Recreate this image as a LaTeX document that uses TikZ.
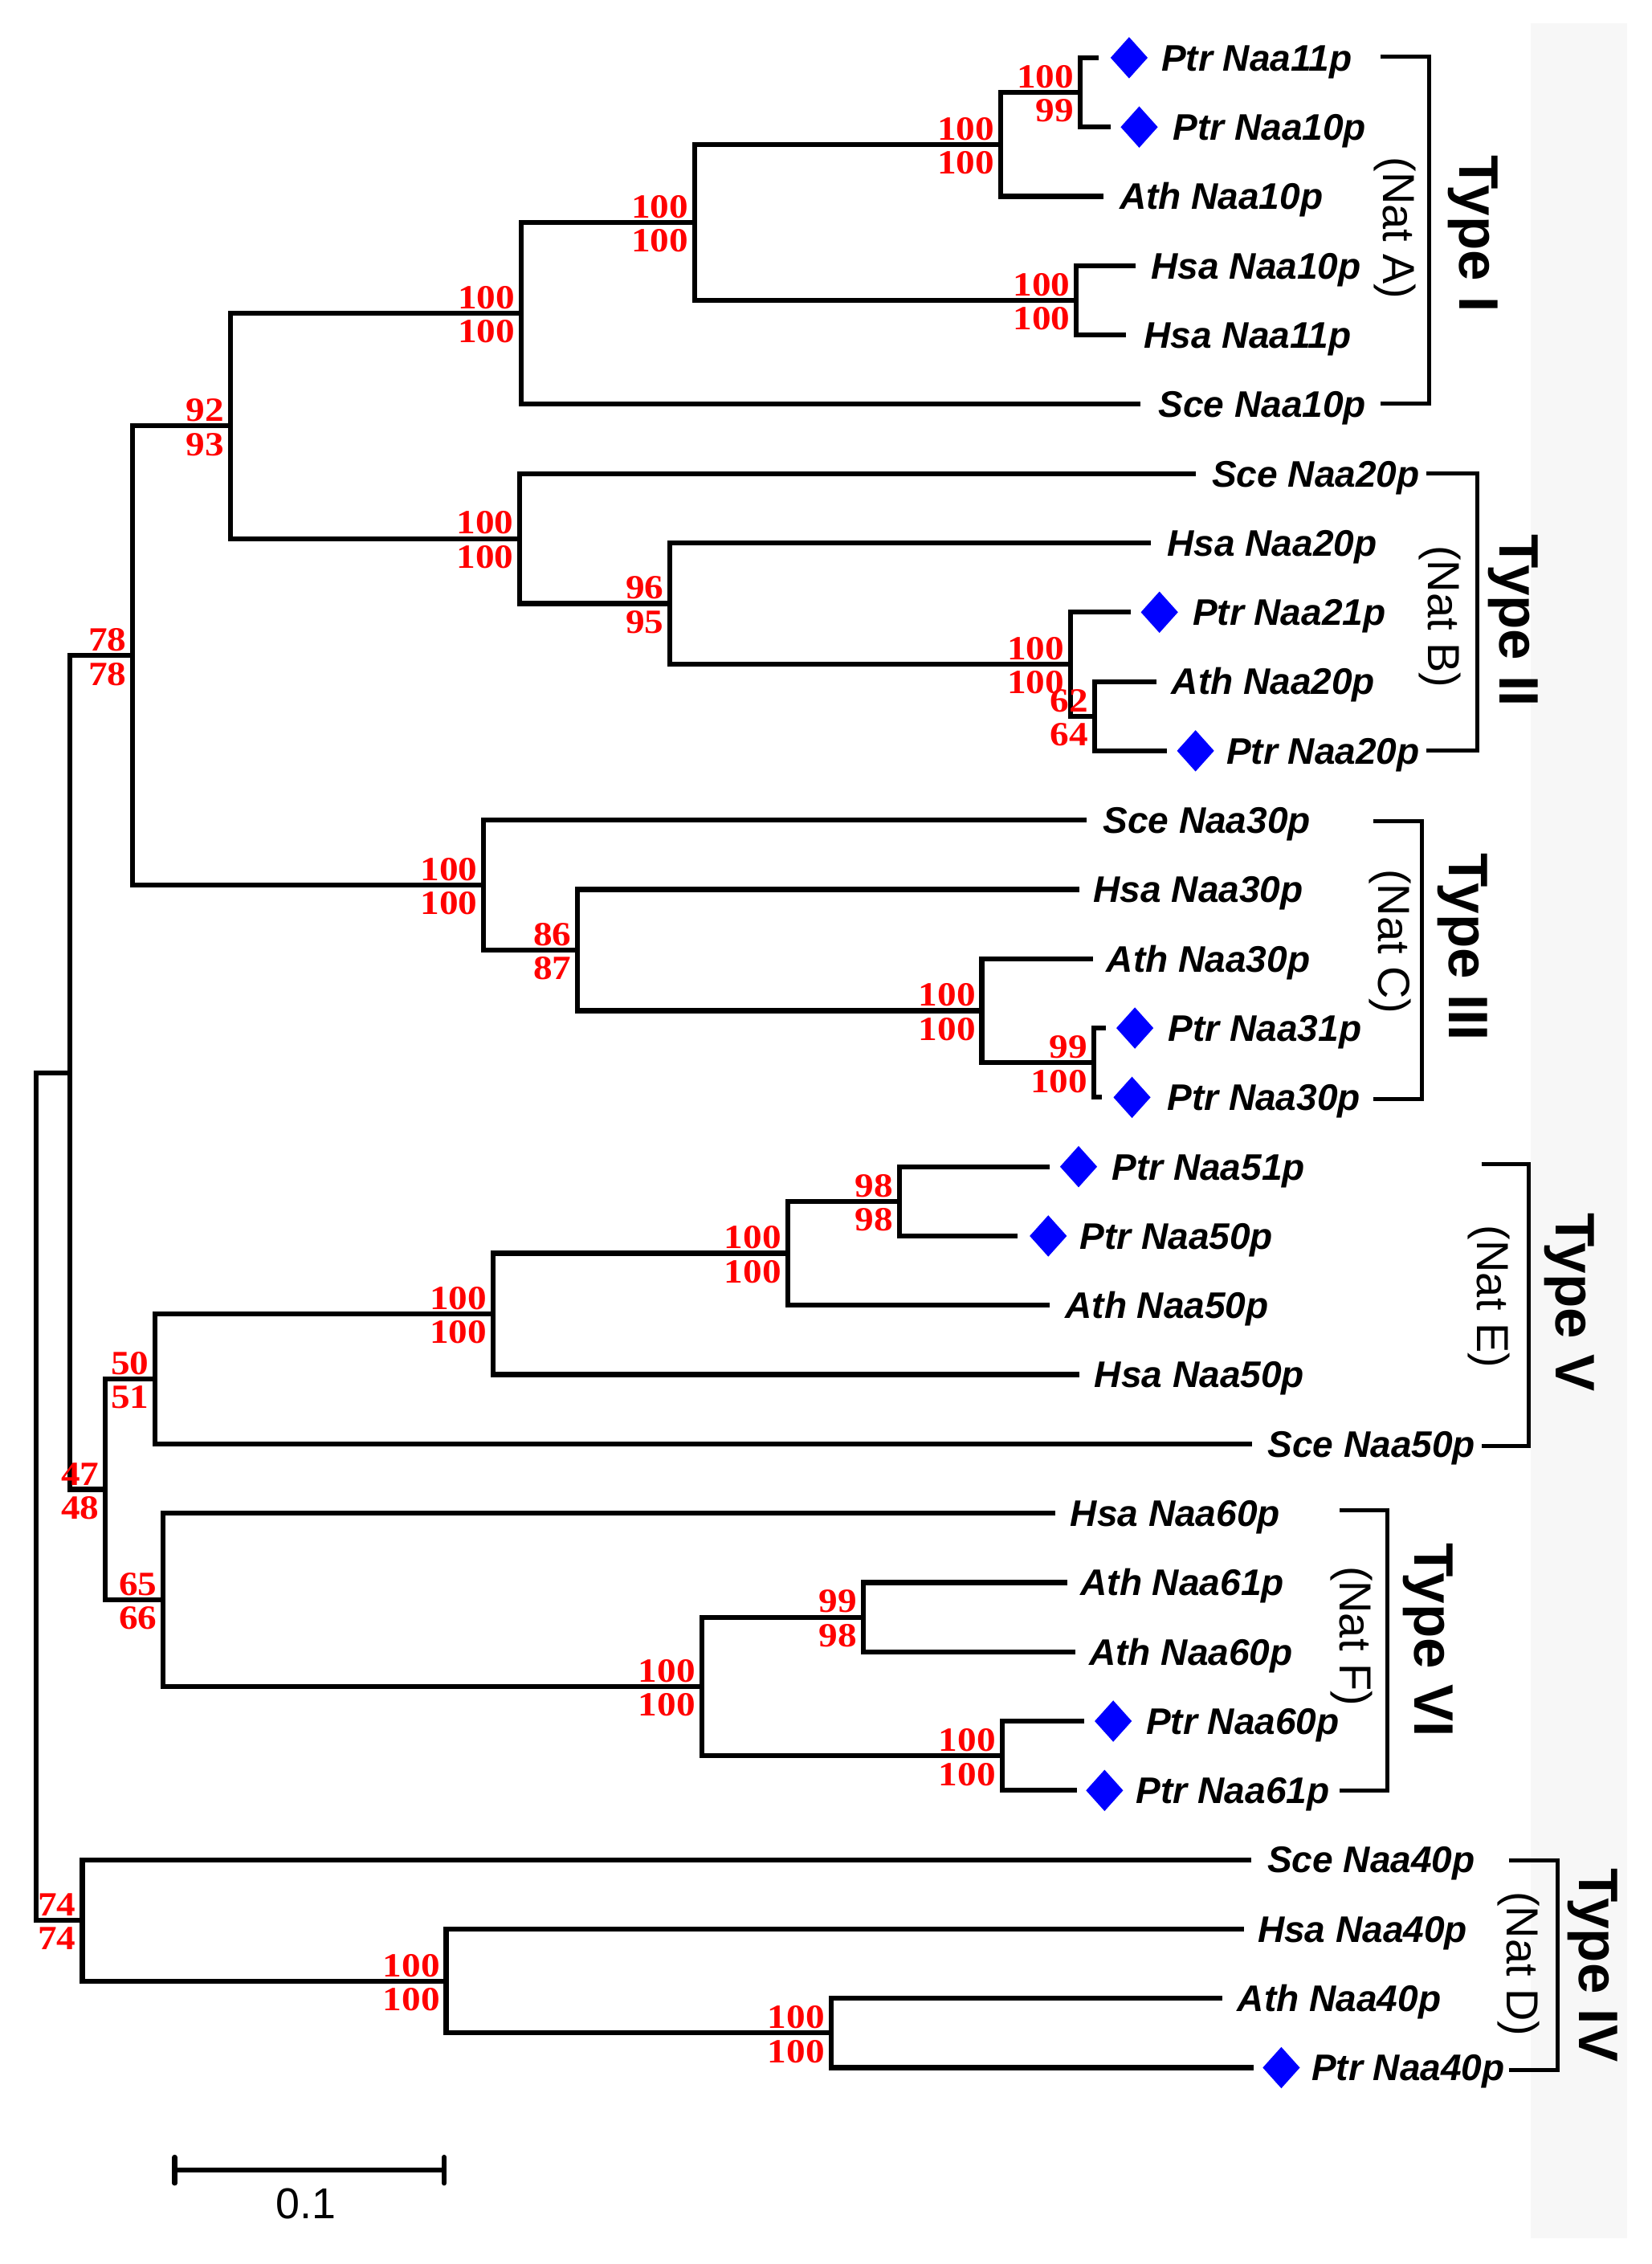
\documentclass[tikz,border=0pt]{standalone}
\usepackage{fontspec}
\setsansfont{Liberation Sans}
\newfontfamily\bsfont[FakeStretch=1.12]{Liberation Serif}
\usetikzlibrary{shapes.geometric}
\newcommand\bootlab[3]{%
  \node[bs,anchor=south east] (#1t) at ([shift={(-4,-2.5)}]#1) {#2};%
  \node[bs,anchor=north east] (#1b) at ([shift={(-4,4.5)}]#1) {#3};}
\newcommand\leaflab[4]{\node[lf] (#1) at (#2,#3+9.1) {#4};}
\begin{document}
\begin{tikzpicture}[x=0.01798cm,y=-0.01798cm,
  br/.style={line width=1.75pt, line join=miter},
  bk/.style={line width=1.4pt, line join=miter},
  bs/.style={inner sep=0pt, text=red, font=\bsfont\bfseries\fontsize{12}{13}\selectfont},
  lf/.style={anchor=base west, inner sep=0pt, font=\sffamily\bfseries\itshape\fontsize{13.1}{15}\selectfont},
  dmd/.style={diamond, fill=blue, draw=none, inner sep=0pt, minimum width=13.3pt, minimum height=14.8pt},
  typ/.style={rotate=-90, inner sep=0pt, font=\sffamily\bfseries\fontsize{19.7}{22}\selectfont},
  nat/.style={rotate=-90, inner sep=0pt, font=\sffamily\fontsize{15.9}{18}\selectfont}]
\useasboundingbox (0,0) rectangle (1144,1568);
\fill[black!3] (1060,16) rectangle (1127,1550);

% leaf branch ends
\coordinate (e1) at (761,40);
\coordinate (e2) at (769,88);
\coordinate (e3) at (764.5,136);
\coordinate (e4) at (786.5,184);
\coordinate (e5) at (780,232);
\coordinate (e6) at (790,280);
\coordinate (e7) at (828,328);
\coordinate (e8) at (797,376);
\coordinate (e9) at (783,424);
\coordinate (e10) at (801,472);
\coordinate (e11) at (808,520);
\coordinate (e12) at (752.6,568);
\coordinate (e13) at (747.5,616);
\coordinate (e14) at (757,664);
\coordinate (e15) at (766,712);
\coordinate (e16) at (763,760);
\coordinate (e17) at (727,808);
\coordinate (e18) at (705,856);
\coordinate (e19) at (727,904);
\coordinate (e20) at (747.5,952);
\coordinate (e21) at (867,1000);
\coordinate (e22) at (731,1048);
\coordinate (e23) at (739,1096);
\coordinate (e24) at (745,1144);
\coordinate (e25) at (751,1192);
\coordinate (e26) at (746,1240);
\coordinate (e27) at (866.6,1288);
\coordinate (e28) at (861.3,1336);
\coordinate (e29) at (846.5,1384);
\coordinate (e30) at (868,1432);

% internal nodes
\coordinate (nA1) at (748,64);
\coordinate (nA2) at (693,100);
\coordinate (nA3) at (745.5,208);
\coordinate (nA4) at (481,154);
\coordinate (nA5) at (361,217);
\coordinate (nB1) at (758,496);
\coordinate (nB2) at (741.5,460);
\coordinate (nB3) at (464,418);
\coordinate (nB4) at (360,373);
\coordinate (nAB) at (159.5,295);
\coordinate (nC1) at (757.5,736);
\coordinate (nC2) at (680,700);
\coordinate (nC3) at (400,658);
\coordinate (nC4) at (335,613);
\coordinate (nABC) at (92,454);
\coordinate (nE1) at (623,832);
\coordinate (nE2) at (545.5,868);
\coordinate (nE3) at (341.5,910);
\coordinate (nE4) at (107.5,955);
\coordinate (nF1) at (598,1120);
\coordinate (nF2) at (694,1216);
\coordinate (nF3) at (486,1168);
\coordinate (nF4) at (113,1108);
\coordinate (nEF) at (73,1031.5);
\coordinate (nABCEF) at (48.5,743);
\coordinate (nD1) at (575.5,1408);
\coordinate (nD2) at (309,1372);
\coordinate (nD3) at (57,1330);
\coordinate (root) at (25,1036.5);

% branches
\draw[br] (e1) -| (nA1) |- (e2);
\draw[br] (nA1) -| (nA2) |- (e3);
\draw[br] (e4) -| (nA3) |- (e5);
\draw[br] (nA2) -| (nA4) |- (nA3);
\draw[br] (nA4) -| (nA5) |- (e6);
\draw[br] (e10) -| (nB1) |- (e11);
\draw[br] (e9) -| (nB2) |- (nB1);
\draw[br] (e8) -| (nB3) |- (nB2);
\draw[br] (e7) -| (nB4) |- (nB3);
\draw[br] (nA5) -| (nAB) |- (nB4);
\draw[br] (e15) -| (nC1) |- (e16);
\draw[br] (e14) -| (nC2) |- (nC1);
\draw[br] (e13) -| (nC3) |- (nC2);
\draw[br] (e12) -| (nC4) |- (nC3);
\draw[br] (nAB) -| (nABC) |- (nC4);
\draw[br] (e17) -| (nE1) |- (e18);
\draw[br] (nE1) -| (nE2) |- (e19);
\draw[br] (nE2) -| (nE3) |- (e20);
\draw[br] (nE3) -| (nE4) |- (e21);
\draw[br] (e23) -| (nF1) |- (e24);
\draw[br] (e25) -| (nF2) |- (e26);
\draw[br] (nF1) -| (nF3) |- (nF2);
\draw[br] (e22) -| (nF4) |- (nF3);
\draw[br] (nE4) -| (nEF) |- (nF4);
\draw[br] (nABC) -| (nABCEF) |- (nEF);
\draw[br] (e29) -| (nD1) |- (e30);
\draw[br] (e28) -| (nD2) |- (nD1);
\draw[br] (e27) -| (nD3) |- (nD2);
\draw[br] (nABCEF) -| (root) |- (nD3);

% bootstrap values
\bootlab{nA1}{100}{99}
\bootlab{nA2}{100}{100}
\bootlab{nA3}{100}{100}
\bootlab{nA4}{100}{100}
\bootlab{nA5}{100}{100}
\bootlab{nB1}{62}{64}
\bootlab{nB2}{100}{100}
\bootlab{nB3}{96}{95}
\bootlab{nB4}{100}{100}
\bootlab{nAB}{92}{93}
\bootlab{nC1}{99}{100}
\bootlab{nC2}{100}{100}
\bootlab{nC3}{86}{87}
\bootlab{nC4}{100}{100}
\bootlab{nABC}{78}{78}
\bootlab{nE1}{98}{98}
\bootlab{nE2}{100}{100}
\bootlab{nE3}{100}{100}
\bootlab{nE4}{50}{51}
\bootlab{nF1}{99}{98}
\bootlab{nF2}{100}{100}
\bootlab{nF3}{100}{100}
\bootlab{nF4}{65}{66}
\bootlab{nEF}{47}{48}
\bootlab{nD1}{100}{100}
\bootlab{nD2}{100}{100}
\bootlab{nD3}{74}{74}

% diamonds
\node[dmd] (d1) at (782,40) {};
\node[dmd] (d2) at (789,88) {};
\node[dmd] (d9) at (803,424) {};
\node[dmd] (d11) at (828,520) {};
\node[dmd] (d15) at (786,712) {};
\node[dmd] (d16) at (784,760) {};
\node[dmd] (d17) at (747,808) {};
\node[dmd] (d18) at (726,856) {};
\node[dmd] (d25) at (771,1192) {};
\node[dmd] (d26) at (765,1240) {};
\node[dmd] (d30) at (887.4,1432) {};

% leaf labels
\leaflab{t1}{804}{40}{Ptr Naa11p}
\leaflab{t2}{812}{88}{Ptr Naa10p}
\leaflab{t3}{775}{136}{Ath Naa10p}
\leaflab{t4}{797}{184}{Hsa Naa10p}
\leaflab{t5}{792}{232}{Hsa Naa11p}
\leaflab{t6}{802}{280}{Sce Naa10p}
\leaflab{t7}{839}{328}{Sce Naa20p}
\leaflab{t8}{808}{376}{Hsa Naa20p}
\leaflab{t9}{825.6}{424}{Ptr Naa21p}
\leaflab{t10}{811}{472}{Ath Naa20p}
\leaflab{t11}{849}{520}{Ptr Naa20p}
\leaflab{t12}{763.5}{568}{Sce Naa30p}
\leaflab{t13}{757}{616}{Hsa Naa30p}
\leaflab{t14}{766}{664}{Ath Naa30p}
\leaflab{t15}{808.7}{712}{Ptr Naa31p}
\leaflab{t16}{808}{760}{Ptr Naa30p}
\leaflab{t17}{769.6}{808}{Ptr Naa51p}
\leaflab{t18}{747.5}{856}{Ptr Naa50p}
\leaflab{t19}{737.4}{904}{Ath Naa50p}
\leaflab{t20}{757.7}{952}{Hsa Naa50p}
\leaflab{t21}{877.6}{1000}{Sce Naa50p}
\leaflab{t22}{741}{1048}{Hsa Naa60p}
\leaflab{t23}{748}{1096}{Ath Naa61p}
\leaflab{t24}{754}{1144}{Ath Naa60p}
\leaflab{t25}{793.4}{1192}{Ptr Naa60p}
\leaflab{t26}{786.6}{1240}{Ptr Naa61p}
\leaflab{t27}{877.4}{1288}{Sce Naa40p}
\leaflab{t28}{870.7}{1336}{Hsa Naa40p}
\leaflab{t29}{856.7}{1384}{Ath Naa40p}
\leaflab{t30}{908}{1432}{Ptr Naa40p}

% brackets
\draw[bk] (956,39) -| (990,279.5) -- (956,279.5);
\draw[bk] (988,328) -| (1023,520) -- (988,520);
\draw[bk] (951,568.5) -| (985,761) -- (951,761);
\draw[bk] (1026,806) -| (1059,1001.5) -- (1026,1001.5);
\draw[bk] (928,1046) -| (961,1240) -- (928,1240);
\draw[bk] (1045,1288.5) -| (1079,1433.5) -- (1045,1433.5);

% group labels
\node[typ] (tyI) at (1020,162) {Type I};
\node[nat] (natA) at (966,158) {(Nat A)};
\node[typ] (tyII) at (1048,430) {Type II};
\node[nat] (natB) at (997,427) {(Nat B)};
\node[typ] (tyIII) at (1013,656) {Type III};
\node[nat] (natC) at (963,652) {(Nat C)};
\node[typ] (tyV) at (1087,902) {Type V};
\node[nat] (natE) at (1031,898) {(Nat E)};
\node[typ] (tyVI) at (989,1136) {Type VI};
\node[nat] (natF) at (936,1133) {(Nat F)};
\node[typ] (tyIV) at (1103,1361) {Type IV};
\node[nat] (natD) at (1052,1360) {(Nat D)};

% scale bar
\coordinate (sL) at (121,1503);
\coordinate (sR) at (307.6,1503);
\draw[br] (sL) -- (sR);
\draw[br, line cap=round] (121,1494) -- (121,1512);
\draw[br, line cap=round] (307.6,1494) -- (307.6,1512);
\node[inner sep=0pt, font=\sffamily\fontsize{15.3}{17}\selectfont] (sc) at (212,1526) {0.1};
\end{tikzpicture}
\end{document}
